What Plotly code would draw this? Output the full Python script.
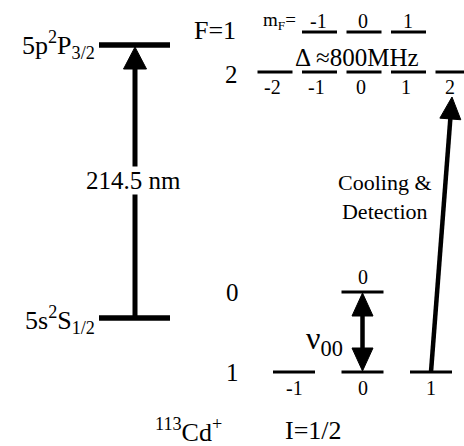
import plotly.graph_objects as go

# ---------------- data ----------------
fine_labels = ["5s<sup>2</sup>S<sub>1/2</sub>", "5p<sup>2</sup>P<sub>3/2</sub>"]
wavelength_label = "214.5 nm"
p_F1_mF = [-1, 0, 1]            # 5p 2P3/2, F=1 sublevels
p_F2_mF = [-2, -1, 0, 1, 2]     # 5p 2P3/2, F=2 sublevels
s_F0_mF = [0]                   # 5s 2S1/2, F=0
s_F1_mF = [-1, 0, 1]            # 5s 2S1/2, F=1
splitting_label = "Δ ≈800MHz"
clock_label = "ν<sub>00</sub>"
cooling_label = "Cooling &amp;<br>Detection"
isotope_label = "<sup>113</sup>Cd<sup>+</sup>"
spin_label = "I=1/2"

# ---------------- layout geometry (pixel-like data coords) ----------------
FONT = "'Liberation Serif', 'DejaVu Serif', serif"
W, H = 464, 446
fine_y = {"S": 318, "P": 45}
fine_x = (99, 170)
arrow_x = 135
P_x0, P_dx, P_hw = 364, 44.5, 17.5
S_x0, S_dx, S_hw = 362.5, 68.5, 21
P_y = {1: 32, 2: 72}
S_y = {0: 292, 1: 372}

def px(m):
    return P_x0 + P_dx * m

def sx(m):
    return S_x0 + S_dx * m

fig = go.Figure()

def add_segments(segs, width):
    xs, ys = [], []
    for (x0, y0, x1, y1) in segs:
        xs += [x0, x1, None]
        ys += [y0, y1, None]
    fig.add_trace(go.Scatter(x=xs, y=ys, mode="lines",
                             line=dict(color="black", width=width),
                             hoverinfo="skip", showlegend=False))

def add_head(tip, base_c, hw):
    tx, ty = tip
    bx, by = base_c
    dx, dy = tx - bx, ty - by
    L = (dx * dx + dy * dy) ** 0.5
    nx, ny = -dy / L, dx / L
    xs = [tx, bx + nx * hw, bx - nx * hw, tx]
    ys = [ty, by + ny * hw, by - ny * hw, ty]
    fig.add_trace(go.Scatter(x=xs, y=ys, mode="lines", fill="toself",
                             fillcolor="black", line=dict(color="black", width=1),
                             hoverinfo="skip", showlegend=False))

# fine-structure levels
add_segments([(fine_x[0], fine_y["S"], fine_x[1], fine_y["S"]),
              (fine_x[0], fine_y["P"], fine_x[1], fine_y["P"])], 5.5)

# hyperfine levels
segs = []
for m in p_F1_mF:
    segs.append((px(m) - P_hw, P_y[1], px(m) + P_hw, P_y[1]))
for m in p_F2_mF:
    segs.append((px(m) - P_hw, P_y[2], px(m) + P_hw, P_y[2]))
for m in s_F0_mF:
    segs.append((sx(m) - S_hw, S_y[0], sx(m) + S_hw, S_y[0]))
for m in s_F1_mF:
    segs.append((sx(m) - S_hw, S_y[1], sx(m) + S_hw, S_y[1]))
add_segments(segs, 3)

# 214.5 nm arrow
add_segments([(arrow_x, fine_y["S"], arrow_x, fine_y["P"] + 22)], 5)
add_head((arrow_x, fine_y["P"] + 2), (arrow_x, fine_y["P"] + 24), 11.5)

# clock transition double arrow
cx = sx(0)
add_segments([(cx, S_y[0] + 20, cx, S_y[1] - 20)], 4.5)
add_head((cx, S_y[0] + 1), (cx, S_y[0] + 24), 10.5)
add_head((cx, S_y[1] - 1), (cx, S_y[1] - 24), 10.5)

# cooling arrow: F=1,mF=1 -> F'=2,mF=2
x0, y0 = sx(1), S_y[1]
x1, y1 = px(2) - 1, P_y[2] + 25
L = ((x1 - x0) ** 2 + (y1 - y0) ** 2) ** 0.5
ux, uy = (x1 - x0) / L, (y1 - y0) / L
add_segments([(x0, y0, x1 - ux * 18, y1 - uy * 18)], 4.5)
add_head((x1, y1), (x1 - ux * 22, y1 - uy * 22), 10.5)

# ---------------- text ----------------
def text(x, y, s, size, xanchor="center", yanchor="middle", bg=None):
    fig.add_annotation(x=x, y=y, text=s, showarrow=False, xanchor=xanchor,
                       yanchor=yanchor, font=dict(family=FONT, size=size, color="black"),
                       bgcolor=bg if bg else "rgba(0,0,0,0)", borderpad=0)

text(96, fine_y["P"], fine_labels[1], 26, xanchor="right")
text(96, fine_y["S"] + 2, fine_labels[0], 26, xanchor="right")
text(arrow_x - 2, 180, wavelength_label, 25, bg="white")

text(215, 30, "F=1", 26)
text(231, 74, "2", 25)
text(279, 21, "m<sub>F</sub>=", 19)
for m in p_F1_mF:
    text(px(m) - 1, 21, str(m), 20)
for m in p_F2_mF:
    text(px(m) - 3, 87, str(m), 20)
text(357, 57, splitting_label, 25)

text(232, 292, "0", 25)
text(232, 372, "1", 25)
for m in s_F0_mF:
    text(sx(m), 277, str(m), 20)
for m in s_F1_mF:
    text(sx(m), 388, str(m), 20)
text(324, 340, clock_label, 32)
text(385, 197, cooling_label, 22)
text(188, 430, isotope_label, 26)
text(313, 430, spin_label, 26)

fig.update_layout(
    width=W, height=H, margin=dict(l=0, r=0, t=0, b=0),
    paper_bgcolor="white", plot_bgcolor="white",
    font=dict(family=FONT, color="black"),
    xaxis=dict(range=[0, W], visible=False, fixedrange=True),
    yaxis=dict(range=[H, 0], visible=False, fixedrange=True),
    showlegend=False,
)
fig.write_html("out.html")
